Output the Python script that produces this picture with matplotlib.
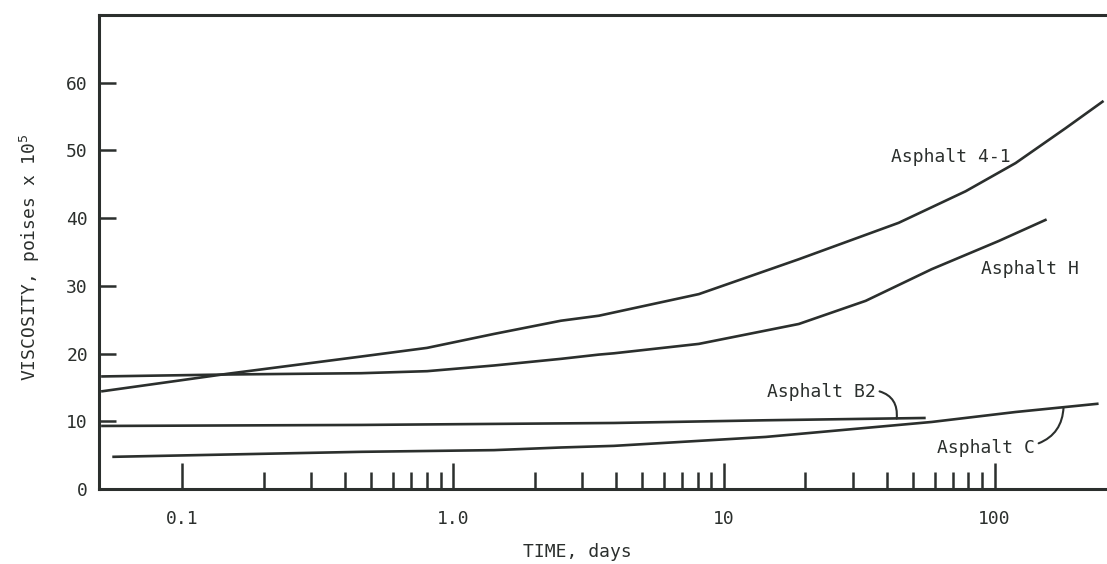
import matplotlib
matplotlib.use("Agg")
import matplotlib.pyplot as plt
from matplotlib.ticker import FixedLocator, NullFormatter

# ---- data ----
t_41 = [0.0502, 0.1466, 0.4575, 0.802, 1.417, 2.503, 3.458, 3.928, 8.087,
        18.92, 44.23, 78.16, 119.5, 182.8, 252.5]
v_41 = [14.41, 17.01, 19.56, 20.84, 22.90, 24.85, 25.59, 26.07, 28.78,
        33.93, 39.31, 43.97, 48.13, 53.28, 57.31]

t_H = [0.0502, 0.1466, 0.4575, 0.802, 1.417, 2.503, 3.458, 3.928, 8.087,
       18.92, 33.42, 58.56, 103.5, 155.6]
v_H = [16.62, 16.91, 17.10, 17.40, 18.24, 19.22, 19.85, 20.04, 21.43,
       24.37, 27.79, 32.46, 36.62, 39.81]

t_B2 = [0.0502, 0.4575, 3.928, 14.29, 55.65]
v_B2 = [9.31, 9.46, 9.75, 10.15, 10.49]

t_C = [0.0552, 0.4575, 1.417, 2.503, 3.928, 14.29, 58.56, 119.5, 242.0]
v_C = [4.75, 5.49, 5.74, 6.13, 6.37, 7.69, 9.90, 11.37, 12.60]

major_x = [0.1, 1, 10, 100]
major_x_labels = ["0.1", "1.0", "10", "100"]
minor_x = [0.2, 0.3, 0.4, 0.5, 0.6, 0.7, 0.8, 0.9,
           2, 3, 4, 5, 6, 7, 8, 9,
           20, 30, 40, 50, 60, 70, 80, 90]
y_ticks = [0, 10, 20, 30, 40, 50, 60]

INK = "#2b2f2d"
FONT = "DejaVu Sans Mono"

fig = plt.figure(figsize=(11.07, 5.64), dpi=100)
ax = fig.add_axes([99 / 1107, (564 - 489) / 564, 1 - 99 / 1107, (489 - 15) / 564])

for t, v in [(t_41, v_41), (t_H, v_H), (t_B2, v_B2), (t_C, v_C)]:
    ax.plot(t, v, color=INK, lw=1.9, solid_capstyle="butt", solid_joinstyle="round")

ax.set_xscale("log")
ax.set_xlim(0.0493, 260)
ax.set_ylim(0, 70)

ax.xaxis.set_major_locator(FixedLocator(major_x))
ax.set_xticklabels(major_x_labels)
ax.xaxis.set_minor_locator(FixedLocator(minor_x))
ax.xaxis.set_minor_formatter(NullFormatter())
ax.set_yticks(y_ticks)

ax.tick_params(axis="x", which="major", direction="in", length=19, width=1.8,
               color=INK, labelcolor=INK, labelsize=13, pad=15)
ax.tick_params(axis="x", which="minor", direction="in", length=12, width=1.8, color=INK)
ax.tick_params(axis="y", direction="in", length=12, width=1.8, color=INK,
               labelcolor=INK, labelsize=13, pad=8)
for lab in ax.get_xticklabels() + ax.get_yticklabels():
    lab.set_fontfamily(FONT)

for s in ["left", "top", "bottom"]:
    ax.spines[s].set_color(INK)
    ax.spines[s].set_linewidth(2.2)
ax.spines["right"].set_visible(False)

# labels
fig.text(30 / 1107, 1 - 257 / 564, r"VISCOSITY, poises x 10$^{5}$", rotation=90,
         ha="center", va="center", fontsize=13, family=FONT, color=INK)
fig.text(577 / 1107, 1 - 552 / 564, "TIME, days", ha="center", va="center",
         fontsize=13, family=FONT, color=INK)

ax.text(41.3, 49.0, "Asphalt 4-1", ha="left", va="center", fontsize=13, family=FONT, color=INK)
ax.text(88.8, 32.5, "Asphalt H", ha="left", va="center", fontsize=13, family=FONT, color=INK)

ax.annotate("Asphalt B2", xy=(43.5, 10.4), xytext=(14.4, 14.3), ha="left", va="center",
            fontsize=13, family=FONT, color=INK,
            arrowprops=dict(arrowstyle="-", color=INK, lw=1.5, relpos=(1.0, 0.6),
                            shrinkA=1, shrinkB=0,
                            connectionstyle="arc3,rad=-0.45"))
ax.annotate("Asphalt C", xy=(179.7, 12.1), xytext=(61.1, 6.0), ha="left", va="center",
            fontsize=13, family=FONT, color=INK,
            arrowprops=dict(arrowstyle="-", color=INK, lw=1.5, relpos=(1.0, 0.7),
                            shrinkA=1, shrinkB=0,
                            connectionstyle="arc3,rad=0.35"))

fig.savefig("out.png", dpi=100, facecolor="white")
